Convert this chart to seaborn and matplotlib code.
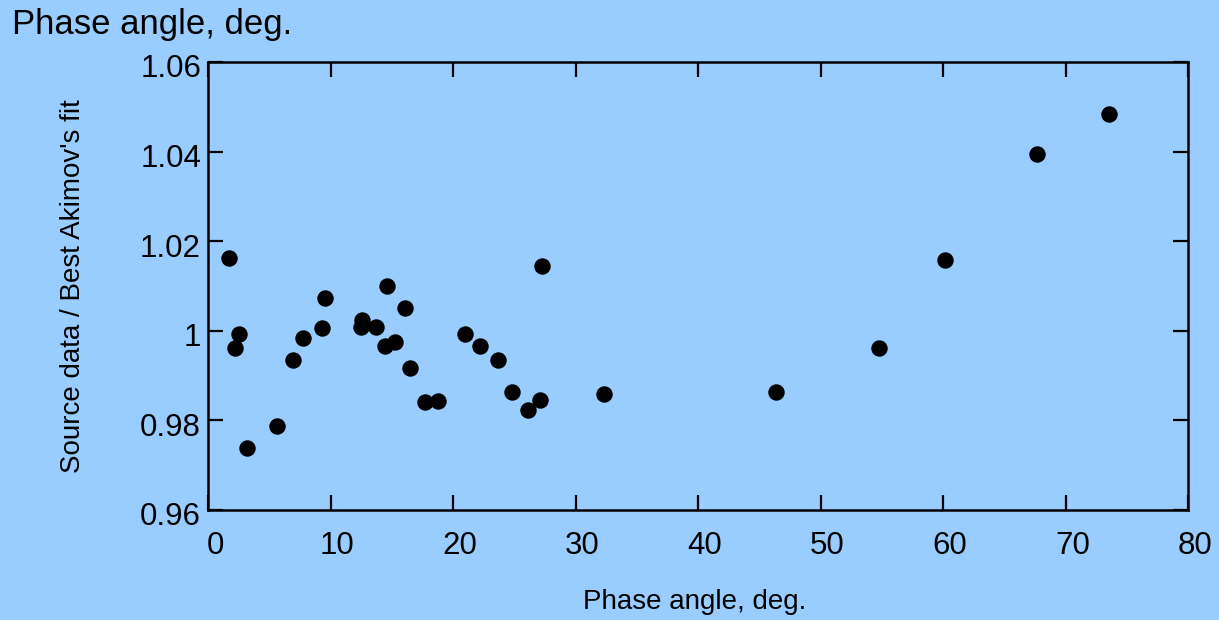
import matplotlib
matplotlib.use("Agg")
import matplotlib.pyplot as plt
import matplotlib.transforms as mtransforms
import seaborn as sns
import pandas as pd

phase_angle = [1.72, 2.2, 2.5, 3.2, 5.65, 6.95, 7.77, 9.33, 9.57,
               12.6, 12.5, 13.7, 14.65, 16.1, 14.45, 15.3, 16.45, 17.7, 18.75,
               21.0, 22.2, 23.65, 24.8, 26.1, 27.1, 27.25, 32.3,
               46.4, 54.75, 60.15, 67.7, 73.55]
ratio = [1.0163, 0.9962, 0.9993, 0.9739, 0.9788, 0.9935, 0.9984, 1.0007, 1.0074,
         1.0025, 1.0009, 1.0009, 1.0099, 1.0051, 0.9966, 0.9975, 0.9917, 0.9841, 0.9844,
         0.9992, 0.9966, 0.9935, 0.9863, 0.9823, 0.9845, 1.0144, 0.9859,
         0.9864, 0.9962, 1.0158, 1.0395, 1.0484]
x_ticks = [0, 10, 20, 30, 40, 50, 60, 70, 80]
y_ticks = [0.96, 0.98, 1.0, 1.02, 1.04, 1.06]
y_tick_labels = ["0.96", "0.98", "1", "1.02", "1.04", "1.06"]

bg = "#99CCFF"
sns.set_style("ticks")
plt.rcParams["font.family"] = ["Liberation Sans", "DejaVu Sans"]

df = pd.DataFrame({"x": phase_angle, "y": ratio})

fig = plt.figure(figsize=(12.19, 6.2), dpi=100, facecolor=bg)
ax = fig.add_axes([208 / 1219, 1 - 510 / 620, 980 / 1219, 448 / 620])
ax.set_facecolor(bg)

sns.scatterplot(data=df, x="x", y="y", ax=ax, color="black", s=140,
                edgecolor="black", linewidth=0, zorder=3, clip_on=False)

ax.set_xlim(0, 80)
ax.set_ylim(0.96, 1.06)
ax.set_xticks(x_ticks)
ax.set_yticks(y_ticks)
ax.set_yticklabels(y_tick_labels)
for s in ax.spines.values():
    s.set_visible(True)
    s.set_color("black")
    s.set_linewidth(1.8)
ax.tick_params(direction="in", length=11, width=1.6, top=True, right=True,
               labelsize=22.5, colors="black")
ax.tick_params(axis="x", pad=15)
ax.tick_params(axis="y", pad=5)

shift_x = mtransforms.ScaledTranslation(7 / 100, 0, fig.dpi_scale_trans)
for lab in ax.get_xticklabels():
    lab.set_transform(lab.get_transform() + shift_x)
shift_y = mtransforms.ScaledTranslation(0, -4 / 100, fig.dpi_scale_trans)
for lab in ax.get_yticklabels():
    lab.set_transform(lab.get_transform() + shift_y)

ax.set_xlabel("Phase angle, deg.", fontsize=20, color="black")
ax.xaxis.set_label_coords((695 - 208) / 980, (510 - 589) / 448)
ax.set_ylabel("Source data / Best Akimov's fit", fontsize=20, color="black")
ax.yaxis.set_label_coords((86 - 208) / 980, 0.5)
fig.text(12 / 1219, 1 - 8 / 620, "Phase angle, deg.", fontsize=25,
         ha="left", va="top", color="black")

fig.savefig("out.png", dpi=100, facecolor=bg)
